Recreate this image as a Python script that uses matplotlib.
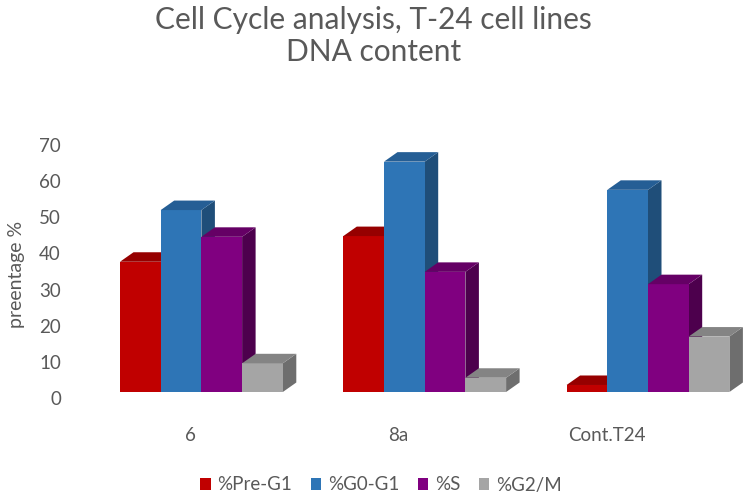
import numpy as np
import matplotlib.pyplot as plt
from matplotlib.patches import Polygon, Patch

categories = ["6", "8a", "Cont.T24"]
series_names = ["%Pre-G1", "%G0-G1", "%S", "%G2/M"]
pre_g1 = [37.7, 44.8, 3.6]
g0_g1 = [52.0, 65.4, 57.6]
s_phase = [44.6, 34.9, 31.5]
g2_m = [9.6, 5.6, 17.0]

# front / top / side shades for the pseudo 3d columns
front_colors = ["#C00000", "#2E75B6", "#800080", "#A5A5A5"]
top_colors = ["#960000", "#255E95", "#650065", "#848484"]
side_colors = ["#7A0000", "#1F4E79", "#4D004D", "#6E6E6E"]

W, H = 747, 497
plt.rcParams['font.family'] = ['Lato', 'DejaVu Sans']
fig = plt.figure(figsize=(W / 100, H / 100), dpi=100)

# axes box in pixels
left_px, right_px, top_px, base_px = 70, 747, 130, 398
px_per_cat = 223.3
cat0_px = 201.4
px_per_unit = 3.614
pos = [left_px / W, (H - base_px) / H, (right_px - left_px) / W, (base_px - top_px) / H]

ax = fig.add_axes(pos)
ax.set_xlim((left_px - cat0_px) / px_per_cat, (right_px - cat0_px) / px_per_cat)
ax.set_ylim(0, (base_px - top_px) / px_per_unit)

bw = 40.7 / px_per_cat          # bar width in category units
dx = 13.5 / px_per_cat          # depth, horizontal
dy = 9.5 / px_per_unit          # depth, vertical
floor = 6 / px_per_unit         # front faces sit a little above the 0 label

data = [pre_g1, g0_g1, s_phase, g2_m]
for i in range(len(categories)):
    for j, vals in enumerate(data):
        x0 = i - 2 * bw + j * bw
        x1 = x0 + bw
        v = vals[i]
        front = [(x0, floor), (x1, floor), (x1, v), (x0, v)]
        side = [(x1, floor), (x1 + dx, floor + dy), (x1 + dx, v + dy), (x1, v)]
        top = [(x0, v), (x1, v), (x1 + dx, v + dy), (x0 + dx, v + dy)]
        ax.add_patch(Polygon(side, closed=True, facecolor=side_colors[j], edgecolor='none'))
        ax.add_patch(Polygon(front, closed=True, facecolor=front_colors[j], edgecolor='none'))
        ax.add_patch(Polygon(top, closed=True, facecolor=top_colors[j], edgecolor='none'))

for sp in ax.spines.values():
    sp.set_visible(False)
ax.set_xticks([])
ax.set_yticks(np.arange(0, 71, 10))
ax.tick_params(axis='y', length=0, pad=6.5, labelsize=13.5, labelcolor='#595959')
ax.set_ylabel("preentage %", fontsize=14, color='#595959')
ax.yaxis.set_label_coords((25 - left_px) / (right_px - left_px), (base_px - 274) / (base_px - top_px))

# category labels sit on their own (perspective) scale
lab_ax = fig.add_axes(pos, frameon=False)
lab_ax.set_xlim((left_px - 190) / 208.5, (right_px - 190) / 208.5)
lab_ax.set_ylim(0, 1)
lab_ax.set_yticks([])
lab_ax.set_xticks(range(len(categories)))
lab_ax.set_xticklabels(categories)
lab_ax.tick_params(axis='x', length=0, pad=21, labelsize=13.5, labelcolor='#595959')

fig.text(0.5, 1 - 36 / H, "Cell Cycle analysis, T-24 cell lines\nDNA content",
         ha='center', va='center', fontsize=21.5, color='#595959', linespacing=1.2)

handles = [Patch(facecolor=c, edgecolor='none') for c in front_colors]
fig.legend(handles, series_names, loc='center', bbox_to_anchor=(381 / W, 1 - 485 / H),
           ncol=4, frameon=False, fontsize=13.5, handlelength=0.55, handleheight=0.55,
           handletextpad=0.35, columnspacing=1.0, labelcolor='#595959')

fig.savefig("out.png", dpi=100)
